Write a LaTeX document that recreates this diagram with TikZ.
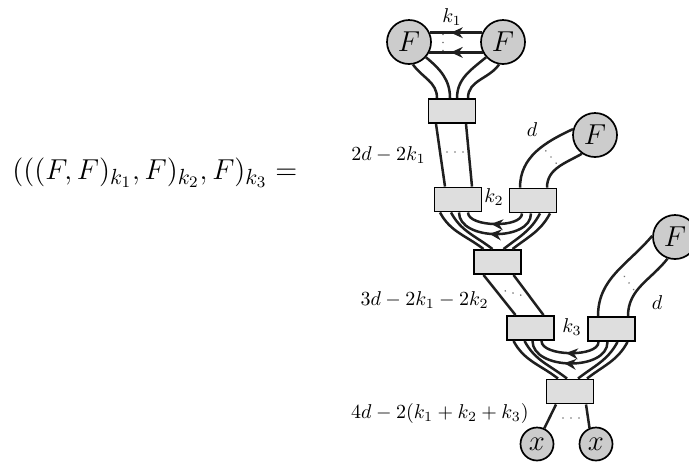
\documentclass[tikz,border=0pt]{standalone}
\usetikzlibrary{arrows.meta,calc,decorations.markings}
\begin{document}
\begin{tikzpicture}[x=0.5pt,y=0.5pt,
  ln/.style={line width=1.25pt, draw=black!88},
  circ/.style={circle, draw=black, line width=0.85pt, fill=black!20, minimum size=22pt, inner sep=0pt, font=\fontsize{15}{17}\selectfont},
  xcirc/.style={circ, minimum size=16.5pt, font=\fontsize{14}{16}\selectfont},
  boxn/.style={rectangle, draw=black, line width=0.95pt, fill=black!13, minimum width=23.5pt, minimum height=12pt, inner sep=0pt},
  lab/.style={font=\normalsize, inner sep=1pt},
  dotc/.style={fill=black!55},
  arrmid/.style={postaction={decorate}, decoration={markings, mark=at position #1 with {\arrow{Stealth[length=6pt,width=5.4pt]}}}}
]
\useasboundingbox (0,0) rectangle (689,-462);

% main formula
\node[font=\fontsize{15.7}{18}\selectfont, anchor=base west, inner sep=0pt] (eq) at (12,-179) {$(((F,F)_{k_1},F)_{k_2},F)_{k_3} =$};

% nodes
\node[circ] (F1) at (409,-42) {$F$};
\node[circ] (F2) at (503,-42) {$F$};
\node[circ] (F3) at (595,-135) {$F$};
\node[circ] (F4) at (675,-237) {$F$};
\node[boxn] (B1) at (452,-111) {};
\node[boxn] (L2) at (458,-199.5) {};
\node[boxn] (R2) at (533,-200.5) {};
\node[boxn] (B3) at (497.5,-262) {};
\node[boxn] (L4) at (530.5,-328) {};
\node[boxn] (R4) at (611.5,-329) {};
\node[boxn] (B5) at (570,-391.5) {};
\node[xcirc] (X1) at (537,-444) {$x$};
\node[xcirc] (X2) at (596,-444) {$x$};

% dots (index lines not drawn)
\foreach \cx/\cy/\ang in {443/-42.5/90, 455/-152/0, 551/-157/-50, 513/-293/-15, 629/-283/-55, 571/-418/0}{
  \begin{scope}[shift={(\cx,\cy)}, rotate=\ang]
    \foreach \t in {-8,0,8} \fill[dotc] (\t,0) circle (0.45pt);
  \end{scope}
}

% top contraction k1
\draw[ln, arrmid=0.6] (F2.156) -- (F1.24);
\draw[ln, arrmid=0.6] (F2.-153) -- (F1.-27);
\node[lab] (k1) at (452,-17) {$k_1$};

% F1,F2 -> B1
\draw[ln] (F1.-80) to[out=-55,in=90] ($(B1.north)+(-15,0)$);
\draw[ln] (F1.-42) to[out=-40,in=90] ($(B1.north)+(-2,0)$);
\draw[ln] (F2.-138) to[out=-140,in=90] ($(B1.north)+(5,0)$);
\draw[ln] (F2.-100) to[out=-125,in=90] ($(B1.north)+(16,0)$);

% B1 -> L2
\draw[ln] ($(B1.south)+(-16,0)$) -- ($(L2.north)+(-13,0)$);
\draw[ln] ($(B1.south)+(14,0)$) -- ($(L2.north)+(14,0)$);
\node[lab, anchor=east] (l2) at (428,-155) {$2d-2k_1$};

% F3 -> R2
\draw[ln] (F3.165) to[out=205,in=90] ($(R2.north)+(-13,0)$);
\draw[ln] (F3.-125) to[out=210,in=90] ($(R2.north)+(14,0)$);
\node[lab] (dl1) at (532,-130) {$d$};

% junction k2
\draw[ln] ($(L2.south)+(-18,0)$) to[out=-62,in=142] ($(B3.north)+(-14,0)$);
\draw[ln] ($(L2.south)+(-7,0)$) to[out=-62,in=142] ($(B3.north)+(-5,0)$);
\draw[ln] ($(R2.south)+(17,0)$) to[out=-118,in=38] ($(B3.north)+(15,0)$);
\draw[ln] ($(R2.south)+(7,0)$) to[out=-118,in=38] ($(B3.north)+(6,0)$);
\draw[ln, arrmid=0.56] ($(R2.south)+(-11,0)$) to[out=-90,in=-90,looseness=0.7] ($(L2.south)+(10,0)$);
\draw[ln, arrmid=0.56] ($(R2.south)+(-2,0)$) to[out=-90,in=-90,looseness=1] ($(L2.south)+(1,0)$);
\node[lab] (k2) at (494,-197) {$k_2$};

% B3 -> L4
\draw[ln] ($(B3.south)+(-14,0)$) -- ($(L4.north)+(-15,0)$);
\draw[ln] ($(B3.south)+(16,0)$) -- ($(L4.north)+(13,0)$);
\node[lab, anchor=east] (l3) at (491,-300) {$3d-2k_1-2k_2$};

% F4 -> R4
\draw[ln] (F4.177) to[out=230,in=90] ($(R4.north)+(-13.5,0)$);
\draw[ln] (F4.-109) to[out=232,in=90] ($(R4.north)+(16.5,0)$);
\node[lab] (dl2) at (657,-303) {$d$};

% junction k3
\draw[ln] ($(L4.south)+(-17,0)$) to[out=-62,in=142] ($(B5.north)+(-12,0)$);
\draw[ln] ($(L4.south)+(-6,0)$) to[out=-62,in=142] ($(B5.north)+(-3,0)$);
\draw[ln] ($(R4.south)+(16,0)$) to[out=-118,in=38] ($(B5.north)+(17,0)$);
\draw[ln] ($(R4.south)+(6,0)$) to[out=-118,in=38] ($(B5.north)+(8,0)$);
\draw[ln, arrmid=0.56] ($(R4.south)+(-13,0)$) to[out=-90,in=-90,looseness=0.7] ($(L4.south)+(11,0)$);
\draw[ln, arrmid=0.56] ($(R4.south)+(-4,0)$) to[out=-90,in=-90,looseness=1] ($(L4.south)+(2,0)$);
\node[lab] (k3) at (572,-327) {$k_3$};

% B5 -> x
\draw[ln] ($(B5.south)+(-14,0)$) -- (X1.65);
\draw[ln] ($(B5.south)+(16,0)$) -- (X2.112);
\node[lab, anchor=east] (l4) at (531,-413) {$4d-2(k_1+k_2+k_3)$};
\end{tikzpicture}
\end{document}
